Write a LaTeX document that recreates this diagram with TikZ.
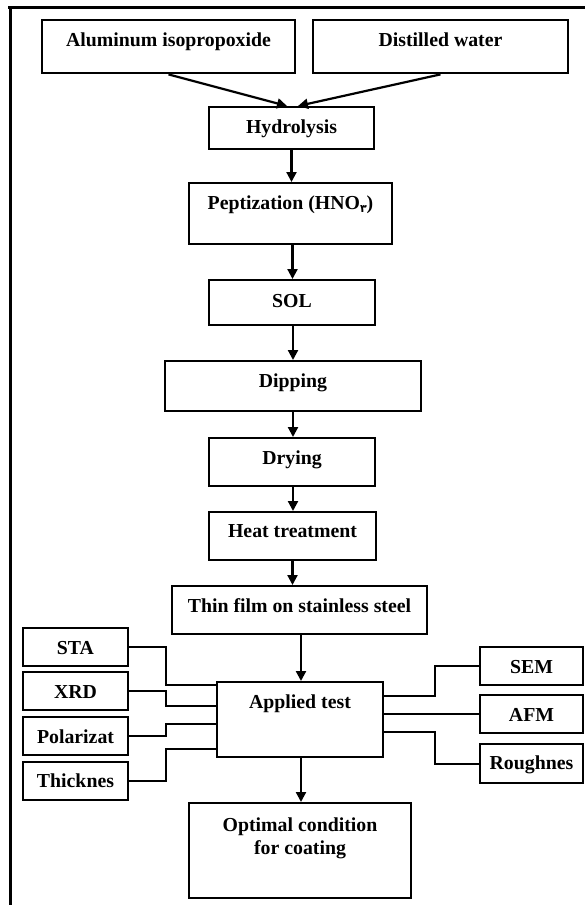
\documentclass[tikz,border=0pt]{standalone}
\usepackage{fontspec}
\setmainfont{Liberation Serif}
\newfontfamily\arabicfont[Script=Arabic]{DejaVu Sans}
\usetikzlibrary{arrows.meta}
\begin{document}
\begin{tikzpicture}[x=1pt,y=-1pt,
  box/.style={draw, line width=2.4pt, inner sep=0pt, anchor=north,
    font=\bfseries\fontsize{19.8}{23}\selectfont},
  conn/.style={line width=2.2pt},
  arr/.style={line width=2.2pt, -{Triangle[length=10pt,width=10pt]}},
  frame/.style={line width=3pt}]
\useasboundingbox (0,0) rectangle (585,905);
% frame
\coordinate (f1) at (8,7);
\coordinate (f2) at (585,7);
\coordinate (f3) at (10,7);
\coordinate (f4) at (10,905);
\draw[frame] (f1) -- (f2);
\draw[frame] (f3) -- (f4);
% main boxes
\node[box, minimum width=253pt, text height=26pt, text depth=27pt] (alu) at (168.5,19) {Aluminum isopropoxide};
\node[box, minimum width=255pt, text height=26pt, text depth=27pt] (dist) at (440.5,19) {Distilled water};
\node[box, minimum width=165pt, text height=26pt, text depth=16pt] (hyd) at (291.5,106) {Hydrolysis};
\node[box, minimum width=203pt, text height=26pt, text depth=35pt] (pep) at (290.5,182) {Peptization (HNO\raisebox{-3pt}{\fontsize{11}{11}\selectfont\arabicfont ۳})};
\node[box, minimum width=166pt, text height=27pt, text depth=18pt] (sol) at (292,279) {SOL};
\node[box, minimum width=256pt, text height=26pt, text depth=24pt] (dip) at (293,360) {Dipping};
\node[box, minimum width=166pt, text height=26pt, text depth=22pt] (dry) at (292,437) {Drying};
\node[box, minimum width=167pt, text height=25pt, text depth=23pt] (heat) at (292.5,511) {Heat treatment};
\node[box, minimum width=255pt, text height=26pt, text depth=22pt] (thin) at (299.5,585) {Thin film on stainless steel};
\node[box, minimum width=166pt, text height=26pt, text depth=49pt] (app) at (300,681) {Applied test};
\node[box, minimum width=222pt, text height=28pt, text depth=67pt] (opt) at (300,802) {\begin{tabular}[t]{@{}c@{}}Optimal condition\\for coating\end{tabular}};
% left tests
\node[box, minimum width=105pt, text height=26pt, text depth=12pt] (sta) at (75.5,627) {STA};
\node[box, minimum width=105pt, text height=26pt, text depth=12pt] (xrd) at (75.5,671) {XRD};
\node[box, minimum width=105pt, text height=26pt, text depth=12pt] (pol) at (75.5,716) {Polarizat};
\node[box, minimum width=105pt, text height=25pt, text depth=13pt] (thk) at (75.5,761) {Thicknes};
% right tests
\node[box, minimum width=103pt, text height=26pt, text depth=12pt] (sem) at (531.5,646) {SEM};
\node[box, minimum width=103pt, text height=26pt, text depth=12pt] (afm) at (531.5,694) {AFM};
\node[box, minimum width=103pt, text height=25pt, text depth=14pt] (rou) at (531.5,743) {Roughnes};
% top arrows
\draw[arr] (alu.south) -- ([xshift=-4.5pt]hyd.north);
\draw[arr] (dist.south) -- ([xshift=6.5pt]hyd.north);
% vertical chain
\draw[arr] (hyd.south) -- (hyd.south |- pep.north);
\draw[arr] ([xshift=2pt]pep.south) -- ([xshift=2pt]pep.south |- sol.north);
\draw[arr] ([xshift=1pt]sol.south) -- ([xshift=1pt]sol.south |- dip.north);
\draw[arr] (dip.south) -- (dip.south |- dry.north);
\draw[arr] ([xshift=1pt]dry.south) -- ([xshift=1pt]dry.south |- heat.north);
\draw[arr] (heat.south) -- (heat.south |- thin.north);
\draw[arr] ([xshift=1.5pt]thin.south) -- ([xshift=1.5pt]thin.south |- app.north);
\draw[arr] ([xshift=1pt]app.south) -- ([xshift=1pt]app.south |- opt.north);
% side connectors
\coordinate (lc) at (166,0);
\coordinate (rc) at (435,0);
\coordinate (a1) at ([yshift=-4pt]app.north west);
\coordinate (a2) at ([yshift=-25pt]app.north west);
\coordinate (a3) at ([yshift=-43pt]app.north west);
\coordinate (a4) at ([yshift=-68pt]app.north west);
\coordinate (b1) at ([yshift=-15pt]app.north east);
\coordinate (b3) at ([yshift=-51pt]app.north east);
\draw[conn] (sta.east) -| (lc |- a1) -- (a1);
\draw[conn] (xrd.east) -| (lc |- a2) -- (a2);
\draw[conn] (pol.east) -| (lc |- a3) -- (a3);
\draw[conn] (thk.east) -| (lc |- a4) -- (a4);
\draw[conn] (b1) -| (rc |- sem.west) -- (sem.west);
\draw[conn] (app.east |- afm.west) -- (afm.west);
\draw[conn] (b3) -| (rc |- rou.west) -- (rou.west);
\end{tikzpicture}
\end{document}
